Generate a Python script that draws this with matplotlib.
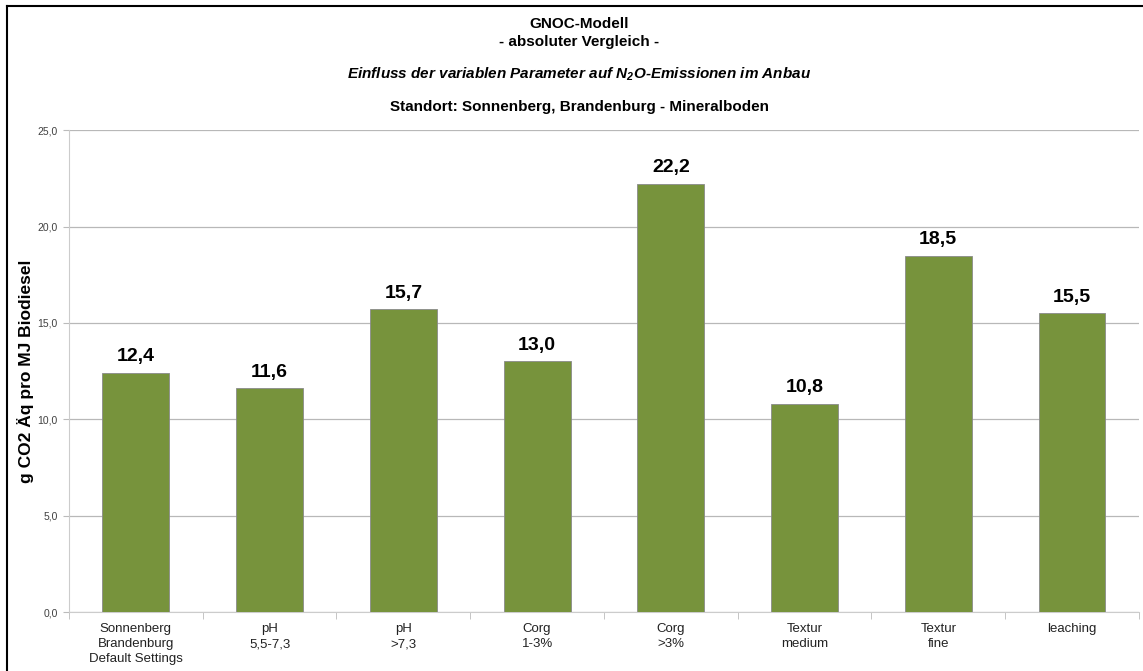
import matplotlib
matplotlib.use("Agg")
import matplotlib.pyplot as plt
import numpy as np

plt.rcParams['font.family'] = ['Liberation Sans', 'DejaVu Sans']
plt.rcParams['mathtext.fontset'] = 'custom'
plt.rcParams['mathtext.rm'] = 'Liberation Sans:bold:italic'
plt.rcParams['mathtext.it'] = 'Liberation Sans:bold:italic'

# data
categories = ['Sonnenberg\nBrandenburg\nDefault Settings', 'pH\n5,5-7,3', 'pH\n>7,3',
              'Corg\n1-3%', 'Corg\n>3%', 'Textur\nmedium', 'Textur\nfine', 'leaching']
values = [12.4, 11.6, 15.7, 13.0, 22.2, 10.8, 18.5, 15.5]
yticks = [0, 5, 10, 15, 20, 25]

fig = plt.figure(figsize=(11.43, 6.71), dpi=100)
ax = fig.add_axes([0.0604, 0.0879, 0.936, 0.718])

x = np.arange(len(categories))
ax.bar(x, values, width=0.5, color='#77933C', edgecolor='#8a8a8a', linewidth=0.6, zorder=3)

for xi, v in zip(x, values):
    ax.text(xi, v + 0.4, ('%.1f' % v).replace('.', ','), ha='center', va='bottom',
            fontsize=14, fontweight='bold', color='black')

ax.set_xlim(-0.5, len(categories) - 0.5)
ax.set_ylim(0, 25)
ax.set_yticks(yticks)
ax.set_yticklabels([('%.1f' % t).replace('.', ',') for t in yticks], fontsize=7.5, color='#404040')
ax.yaxis.grid(True, color='#b8b8b8', linewidth=0.9, zorder=0)
ax.set_xticks(x)
ax.set_xticklabels(categories, fontsize=9.5, color='#222222', linespacing=1.35)
ax.set_xticks(np.arange(-0.5, len(categories)), minor=True)
ax.tick_params(axis='x', which='major', length=0, pad=8)
ax.tick_params(axis='x', which='minor', length=5, color='#bbbbbb')
ax.tick_params(axis='y', length=4, color='#bbbbbb', pad=4)

for s in ['top', 'right']:
    ax.spines[s].set_visible(False)
ax.spines['left'].set_color('#cccccc')
ax.spines['bottom'].set_color('#cccccc')

ax.set_ylabel('g CO2 Äq pro MJ Biodiesel', fontsize=12.5, fontweight='bold')
ax.yaxis.set_label_coords(-0.033, 0.5)

cx = 0.507
fig.text(cx, 1 - 24 / 671, 'GNOC-Modell', ha='center', va='center', fontsize=11, fontweight='bold')
fig.text(cx, 1 - 42 / 671, '- absoluter Vergleich -', ha='center', va='center', fontsize=11, fontweight='bold')
fig.text(cx, 1 - 74 / 671, 'Einfluss der variablen Parameter auf N$_2$O-Emissionen im Anbau',
         ha='center', va='center', fontsize=11, fontweight='bold', style='italic')
fig.text(cx, 1 - 107 / 671, 'Standort: Sonnenberg, Brandenburg - Mineralboden', ha='center', va='center',
         fontsize=11, fontweight='bold')

# frame lines at top and left
fig.add_artist(plt.Line2D([7 / 1143, 1], [1 - 6 / 671, 1 - 6 / 671], color='black', linewidth=1.5))
fig.add_artist(plt.Line2D([7 / 1143, 7 / 1143], [0, 1 - 6 / 671], color='black', linewidth=1.5))

fig.savefig('out.png', dpi=100)
